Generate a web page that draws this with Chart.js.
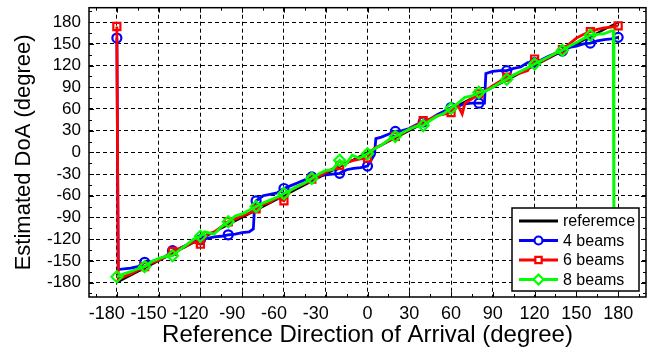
<!DOCTYPE html>
<html>
<head>
<meta charset="utf-8">
<script src="https://cdn.jsdelivr.net/npm/chart.js@4.4.1/dist/chart.umd.min.js"></script>
<style>
  body { margin: 0; background: #fff; }
  canvas { display: block; }
</style>
</head>
<body>
<canvas id="doaChart" width="657" height="347"></canvas>
<script>
// tick values on both axes (degrees)
var tickValues = [-180, -150, -120, -90, -60, -30, 0, 30, 60, 90, 120, 150, 180];

var refX = [-180, 180];
var refY = [-180, 180];

var beam4X = [-180, -179, -175, -170, -165, -160, -155, -150, -145, -140, -135, -130, -125, -120, -115, -110, -105, -100, -95, -90, -85, -82, -81, -80, -75, -70, -65, -60, -55, -50, -45, -40, -35, -30, -25, -20, -15, -10, -5, 0, 5, 6, 10, 15, 20, 25, 30, 35, 40, 45, 50, 55, 60, 65, 70, 75, 80, 84, 85, 90, 95, 100, 105, 110, 115, 120, 125, 130, 135, 140, 145, 150, 155, 160, 165, 170, 175, 180];
var beam4Y = [158, -162, -161, -160, -158, -152, -151, -148, -144, -136, -133, -128, -124, -121, -119, -117, -116, -114, -113, -111, -110, -106, -72, -67, -60, -58, -56, -50, -46, -42, -38, -34, -32, -31, -30, -29, -24, -22, -21, -19, -3, 19, 21, 25, 29, 30, 33, 38, 42, 46, 52, 57, 62, 64, 67, 68, 68, 68, 109, 112, 113, 113, 116, 118, 124, 124, 128, 133, 137, 140, 145, 147, 150, 151, 154, 156, 157, 159];

var beam6X = [-180, -179, -175, -170, -165, -160, -155, -150, -145, -140, -135, -130, -125, -120, -115, -110, -105, -100, -95, -90, -85, -80, -75, -70, -65, -60, -55, -50, -45, -40, -35, -30, -25, -20, -15, -10, -5, 0, 5, 10, 15, 20, 25, 30, 35, 40, 45, 50, 55, 60, 65, 68, 70, 75, 80, 85, 90, 95, 100, 105, 110, 115, 120, 125, 130, 135, 140, 145, 150, 155, 160, 165, 170, 175, 180];
var beam6Y = [174, -176, -172, -168, -163, -158, -153, -149, -144, -137, -133, -129, -124, -127, -113, -110, -103, -96, -92, -88, -84, -78, -72, -69, -63, -67, -52, -47, -43, -37, -33, -28, -23, -18, -14, -11, -9, -8, 6, 10, 16, 22, 26, 32, 37, 44, 46, 51, 53, 55, 65, 53, 68, 74, 81, 86, 92, 98, 104, 107, 110, 113, 129, 126, 131, 137, 142, 150, 158, 163, 167, 170, 172, 173, 175];

var beam8X = [-180, -175, -170, -165, -160, -155, -150, -145, -140, -135, -130, -125, -120, -117, -110, -105, -100, -95, -90, -85, -80, -75, -70, -65, -60, -55, -50, -45, -40, -35, -30, -25, -20, -16, -11, -6, 0, 5, 10, 15, 20, 25, 30, 35, 40, 45, 50, 55, 60, 65, 70, 75, 80, 85, 90, 95, 100, 105, 110, 115, 120, 125, 130, 135, 140, 145, 150, 155, 160, 165, 170, 175, 176.5, 177, 180];
var beam8Y = [-172, -168, -165, -161, -158, -151, -147, -144, -143, -135, -128, -120, -116, -110, -113, -103, -96, -88, -85, -80, -75, -70, -66, -62, -57, -52, -47, -42, -36, -30, -25, -24, -11, -18, -4, -8, -2, 5, 10, 17, 22, 27, 32, 36, 37, 44, 50, 54, 61, 68, 76, 78, 83, 85, 90, 96, 101, 107, 112, 117, 122, 127, 132, 137, 141, 147, 152, 157, 162, 163, 164, 168, 168, -178, -178];

var seriesLabels = ['referemce', '4 beams', '6 beams', '8 beams'];
var seriesColors = ['#000000', '#0000ff', '#ff0000', '#00ff00'];
var seriesMarkers = [false, 'circle', 'rect', 'rectRot'];
var markerSizes = [0, 4.5, 5, 5.5];

function toPoints(xs, ys) {
  return xs.map(function (x, i) { return { x: x, y: ys[i] }; });
}

// markers only every 20 degrees
function markerRadius(r) {
  return function (ctx) {
    if (!ctx.raw) return 0;
    return ((ctx.raw.x + 180) % 20 === 0) ? r : 0;
  };
}

function makeSet(i, xs, ys) {
  return {
    label: seriesLabels[i],
    data: toPoints(xs, ys),
    borderColor: seriesColors[i],
    backgroundColor: 'rgba(0,0,0,0)',
    borderWidth: i === 0 ? 2.2 : 2.8,
    pointStyle: seriesMarkers[i] || 'circle',
    pointRadius: i === 0 ? 0 : markerRadius(markerSizes[i]),
    pointBorderColor: seriesColors[i],
    pointBackgroundColor: 'rgba(0,0,0,0)',
    pointBorderWidth: 2.2,
    tension: 0,
    order: 3 - i,
  };
}

var FONT = "'Liberation Sans', Arial, Helvetica, sans-serif";
Chart.defaults.font.family = FONT;
Chart.defaults.color = '#000';

// axes box with inward ticks, like matlab
var boxPlugin = {
  id: 'boxPlugin',
  afterDatasetsDraw: function (chart) {
    var c = chart.ctx, a = chart.chartArea;
    var xs = chart.scales.x, ys = chart.scales.y;
    c.save();
    c.strokeStyle = '#000';
    c.lineWidth = 1;
    c.beginPath();
    for (var v = -195; v <= 195; v += 15) {
      var len = (v % 30 === 0) ? 5 : 3;
      var px = Math.round(xs.getPixelForValue(v)) + 0.5;
      c.moveTo(px, a.bottom); c.lineTo(px, a.bottom - len);
      c.moveTo(px, a.top); c.lineTo(px, a.top + len);
      var py = Math.round(ys.getPixelForValue(v)) + 0.5;
      c.moveTo(a.left, py); c.lineTo(a.left + len, py);
      c.moveTo(a.right, py); c.lineTo(a.right - len, py);
    }
    c.stroke();
    c.lineWidth = 1.5;
    c.strokeRect(a.left, a.top, a.right - a.left, a.bottom - a.top);
    c.restore();
  },
  afterDraw: function (chart) {
    var c = chart.ctx;
    var bx = 512, by = 208, bw = 127, bh = 83;
    c.save();
    c.fillStyle = '#fff';
    c.fillRect(bx, by, bw, bh);
    c.strokeStyle = '#000';
    c.lineWidth = 1.5;
    c.strokeRect(bx, by, bw, bh);
    c.font = '16px ' + FONT;
    c.textBaseline = 'middle';
    c.textAlign = 'left';
    for (var i = 0; i < seriesLabels.length; i++) {
      var y = by + 13 + i * 19.5;
      c.strokeStyle = seriesColors[i];
      c.lineWidth = 2.8;
      c.beginPath();
      c.moveTo(bx + 7, y);
      c.lineTo(bx + 46, y);
      c.stroke();
      if (seriesMarkers[i]) {
        c.lineWidth = 2.2;
        c.fillStyle = '#fff';
        Chart.helpers.drawPoint(c, { pointStyle: seriesMarkers[i], radius: markerSizes[i] - 0.5, borderWidth: 2.2 }, bx + 26.5, y);
      }
      c.fillStyle = '#000';
      c.fillText(seriesLabels[i], bx + 51, y + 1);
    }
    c.restore();
  }
};

function axisTicks(scale) {
  scale.ticks = tickValues.map(function (v) { return { value: v }; });
}

// fixed axis sizes, no extra room for edge labels
function fixSize(w, h) {
  return function (s) {
    if (w) s.width = w;
    if (h) s.height = h;
    s.paddingTop = 0;
    s.paddingBottom = 0;
    s.paddingLeft = 0;
    s.paddingRight = 0;
  };
}

var ctx = document.getElementById('doaChart').getContext('2d');
var myChart = new Chart(ctx, {
  type: 'line',
  data: {
    datasets: [
      makeSet(0, refX, refY),
      makeSet(1, beam4X, beam4Y),
      makeSet(2, beam6X, beam6Y),
      makeSet(3, beam8X, beam8Y),
    ]
  },
  options: {
    responsive: false,
    animation: false,
    devicePixelRatio: 1,
    layout: { padding: { top: 7, right: 11, left: 0, bottom: 0 } },
    plugins: { legend: { display: false }, tooltip: { enabled: false } },
    scales: {
      x: {
        type: 'linear',
        min: -200,
        max: 200,
        afterBuildTicks: axisTicks,
        afterFit: fixSize(0, 50),
        grid: { color: '#000', lineWidth: 1, drawTicks: false },
        border: { display: false, dash: [4, 3] },
        ticks: {
          font: { size: 18 },
          color: '#000',
          padding: 6,
          maxRotation: 0,
          autoSkip: false,
          // negative labels sit a bit left of the tick in the original
          callback: function (v) { return v < 0 ? v + '    ' : '' + v; }
        },
        title: {
          display: true,
          text: 'Reference Direction of Arrival (degree)',
          font: { size: 24 },
          color: '#000',
          padding: { top: 0, bottom: -2.5 }
        }
      },
      y: {
        type: 'linear',
        min: -200,
        max: 200,
        afterBuildTicks: axisTicks,
        afterFit: fixSize(89, 0),
        grid: { color: '#000', lineWidth: 1, drawTicks: false },
        border: { display: false, dash: [4, 3] },
        ticks: {
          font: { size: 17 },
          color: '#000',
          padding: 8,
          autoSkip: false
        },
        title: {
          display: true,
          text: 'Estimated DoA (degree)',
          font: { size: 22 },
          color: '#000',
          padding: { top: 11, bottom: 0 }
        }
      }
    }
  },
  plugins: [boxPlugin]
});
</script>
</body>
</html>
